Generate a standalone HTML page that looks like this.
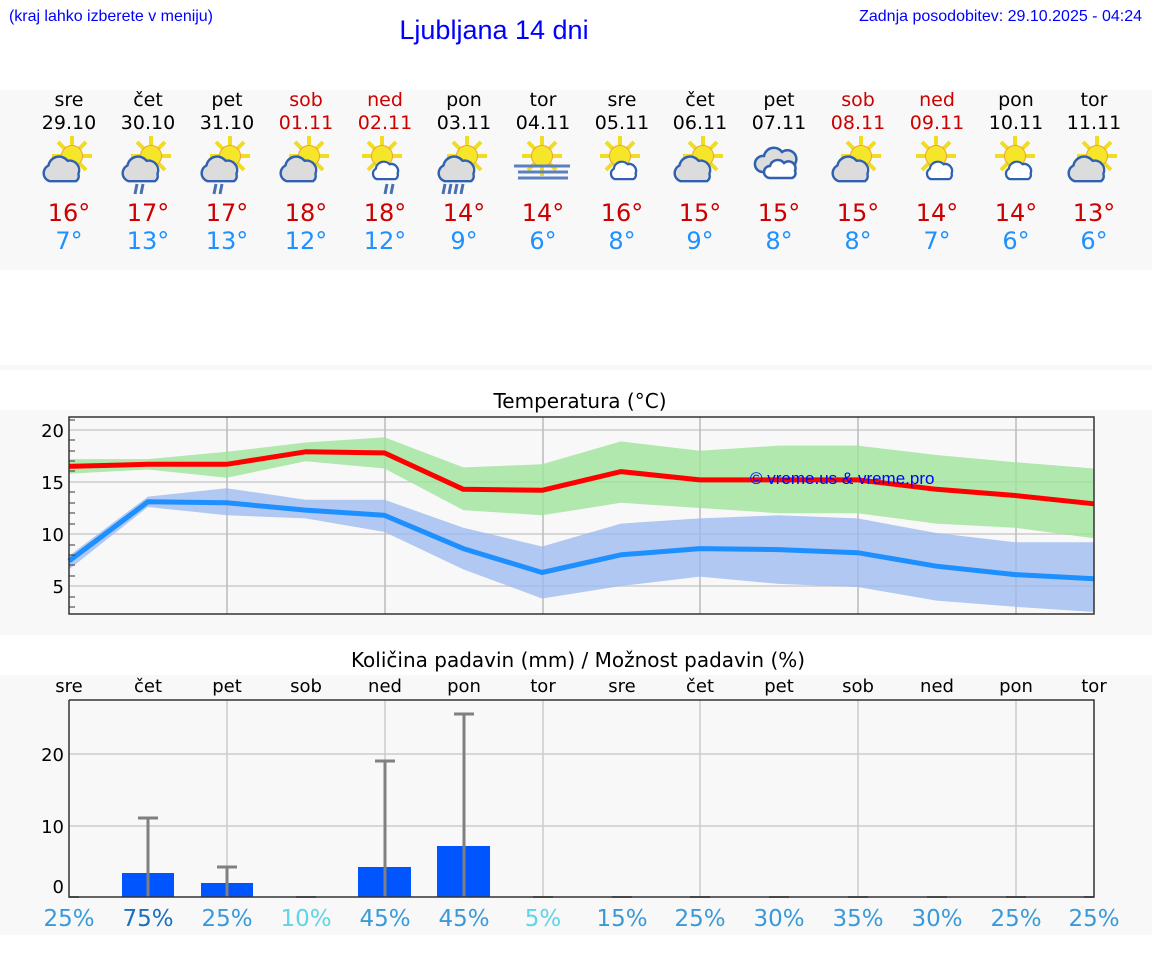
<!DOCTYPE html>
<html><head><meta charset="utf-8"><style>
body{margin:0;background:#fff;}
svg{display:block;font-family:"DejaVu Sans","Liberation Sans",sans-serif;}
</style></head><body>
<svg width="1152" height="975" viewBox="0 0 1152 975" xmlns="http://www.w3.org/2000/svg">
<defs>
<g id="sun"><g stroke="#f0dc20" stroke-width="4"><line x1="30" y1="-2" x2="30" y2="38"/><line x1="10" y1="18" x2="50" y2="18"/><line x1="16" y1="4" x2="44" y2="32"/><line x1="44" y1="4" x2="16" y2="32"/></g><circle cx="30" cy="18" r="10.5" fill="#f5e62a" stroke="#f0a030" stroke-width="1"/></g>
<path id="gc" transform="translate(-2,-6) scale(1.2)" d="M8,41 a7,7 0 0 1 -1,-13 a9,9 0 0 1 16,-4 a8,8 0 0 1 9,11 a5,5 0 0 1 -2,6 z" fill="#dcdcdc" stroke="#3060b0" stroke-width="2"/>
<path id="wc" transform="translate(-5,-6) scale(1.15)" d="M26,41 a5,5 0 0 1 -1,-9 a7,7 0 0 1 12,-4 a6,6 0 0 1 7,8 a4,4 0 0 1 -2,5 z" fill="#fff" stroke="#3060b0" stroke-width="2"/>
<g id="rain" stroke="#4a70b0" stroke-width="3"><line x1="16" y1="46" x2="14" y2="56"/><line x1="22" y1="46" x2="20" y2="56"/></g>
<g id="i1"><use href="#sun"/><use href="#gc"/></g>
<g id="i2"><use href="#sun"/><use href="#gc"/><use href="#rain"/></g>
<g id="i3"><use href="#sun"/><use href="#wc"/><g stroke="#4a70b0" stroke-width="3"><line x1="35" y1="46" x2="33" y2="56"/><line x1="41" y1="46" x2="39" y2="56"/></g></g>
<g id="i4"><use href="#sun"/><use href="#gc"/><g stroke="#4a70b0" stroke-width="3"><line x1="8" y1="46" x2="6" y2="56"/><line x1="14" y1="46" x2="12" y2="56"/><line x1="20" y1="46" x2="18" y2="56"/><line x1="26" y1="46" x2="24" y2="56"/></g></g>
<g id="i5"><use href="#sun"/><g stroke="#5a80c0" stroke-width="3"><line x1="2" y1="28" x2="58" y2="28"/><line x1="6" y1="34" x2="56" y2="34"/><line x1="6" y1="40" x2="56" y2="40"/></g></g>
<g id="i6"><use href="#sun"/><use href="#wc"/></g>
<g id="i7"><path d="M12,36 a8,8 0 0 1 2,-16 a10,10 0 0 1 18,-4 a9,9 0 0 1 13,12 a8,8 0 0 1 -4,8 z" fill="#dcdcdc" stroke="#3060b0" stroke-width="2.5"/><path d="M20,42 a6,6 0 0 1 0,-12 a8,8 0 0 1 14,-3 a7,7 0 0 1 11,8 a5,5 0 0 1 -3,7 z" fill="#fff" stroke="#3060b0" stroke-width="2.5"/></g>
</defs>

<text x="9" y="21" font-size="16" fill="#0000ff" font-family="Liberation Sans,sans-serif" textLength="204">(kraj lahko izberete v meniju)</text>
<text x="494" y="39" font-size="27" fill="#0000ff" text-anchor="middle" font-family="Liberation Sans,sans-serif">Ljubljana 14 dni</text>
<text x="1142" y="21" font-size="16" fill="#0000ff" text-anchor="end" font-family="Liberation Sans,sans-serif">Zadnja posodobitev: 29.10.2025 - 04:24</text>

<rect x="0" y="90" width="1152" height="180" fill="#f8f8f8"/>
<rect x="0" y="365" width="1152" height="5" fill="#f8f8f8"/>
<rect x="0" y="410" width="1152" height="225" fill="#f8f8f8"/>
<rect x="0" y="675" width="1152" height="260" fill="#f8f8f8"/>

<g font-size="19" text-anchor="middle">
<g fill="#000">
<text x="69" y="106">sre</text><text x="148" y="106">čet</text><text x="227" y="106">pet</text><text x="464" y="106">pon</text><text x="543" y="106">tor</text><text x="622" y="106">sre</text><text x="700" y="106">čet</text><text x="779" y="106">pet</text><text x="1016" y="106">pon</text><text x="1094" y="106">tor</text>
<text x="69" y="129">29.10</text><text x="148" y="129">30.10</text><text x="227" y="129">31.10</text><text x="464" y="129">03.11</text><text x="543" y="129">04.11</text><text x="622" y="129">05.11</text><text x="700" y="129">06.11</text><text x="779" y="129">07.11</text><text x="1016" y="129">10.11</text><text x="1094" y="129">11.11</text>
</g>
<g fill="#cc0000">
<text x="306" y="106">sob</text><text x="385" y="106">ned</text><text x="858" y="106">sob</text><text x="937" y="106">ned</text>
<text x="306" y="129">01.11</text><text x="385" y="129">02.11</text><text x="858" y="129">08.11</text><text x="937" y="129">09.11</text>
</g>
</g>

<use href="#i1" x="42" y="138"/>
<use href="#i2" x="121" y="138"/>
<use href="#i2" x="200" y="138"/>
<use href="#i1" x="279" y="138"/>
<use href="#i3" x="352" y="138"/>
<use href="#i4" x="437" y="138"/>
<use href="#i5" x="512" y="138"/>
<use href="#i6" x="590" y="138"/>
<use href="#i1" x="673" y="138"/>
<use href="#i7" x="750" y="136"/>
<use href="#i1" x="831" y="138"/>
<use href="#i6" x="906" y="138"/>
<use href="#i6" x="985" y="138"/>
<use href="#i1" x="1067" y="138"/>

<g font-size="24" text-anchor="middle">
<g fill="#cc0000">
<text x="69" y="221">16°</text><text x="148" y="221">17°</text><text x="227" y="221">17°</text><text x="306" y="221">18°</text><text x="385" y="221">18°</text><text x="464" y="221">14°</text><text x="543" y="221">14°</text><text x="622" y="221">16°</text><text x="700" y="221">15°</text><text x="779" y="221">15°</text><text x="858" y="221">15°</text><text x="937" y="221">14°</text><text x="1016" y="221">14°</text><text x="1094" y="221">13°</text>
</g>
<g fill="#1e90ff">
<text x="69" y="249">7°</text><text x="148" y="249">13°</text><text x="227" y="249">13°</text><text x="306" y="249">12°</text><text x="385" y="249">12°</text><text x="464" y="249">9°</text><text x="543" y="249">6°</text><text x="622" y="249">8°</text><text x="700" y="249">9°</text><text x="779" y="249">8°</text><text x="858" y="249">8°</text><text x="937" y="249">7°</text><text x="1016" y="249">6°</text><text x="1094" y="249">6°</text>
</g>
</g>

<!-- Temperature chart -->
<text x="580" y="408" font-size="20" text-anchor="middle" fill="#000">Temperatura (°C)</text>
<rect x="69" y="417" width="1025" height="197" fill="#f8f8f8"/>
<g stroke="#ccc" stroke-width="1.5">
<line x1="69" y1="430" x2="1094" y2="430"/><line x1="69" y1="482" x2="1094" y2="482"/><line x1="69" y1="534" x2="1094" y2="534"/><line x1="69" y1="586" x2="1094" y2="586"/>
</g>
<g stroke="#bbb" stroke-width="1.5">
<line x1="227" y1="417" x2="227" y2="614"/><line x1="385" y1="417" x2="385" y2="614"/><line x1="543" y1="417" x2="543" y2="614"/><line x1="700" y1="417" x2="700" y2="614"/><line x1="858" y1="417" x2="858" y2="614"/><line x1="1016" y1="417" x2="1016" y2="614"/>
</g>
<polygon fill="#9de39a" fill-opacity="0.8" points="69,459.1 147.9,459.1 226.7,451.8 305.6,442.5 384.4,437.3 463.3,467.4 542.1,464.3 621,441.4 699.8,450.8 778.7,445.6 857.5,445.6 936.4,455 1015.2,462.2 1094,468.5 1094,538.2 1015.2,527.8 936.4,523.6 857.5,513.2 778.7,513.2 699.8,508 621,502.8 542.1,515.3 463.3,510.1 384.4,468.5 305.6,461.2 226.7,477.8 147.9,469.5 69,473.7"/>
<polygon fill="#9ab8f0" fill-opacity="0.75" points="69,555.8 147.9,496.6 226.7,488.2 305.6,499.7 384.4,499.7 463.3,527.8 542.1,546.5 621,523.6 699.8,518.4 778.7,515.3 857.5,518.4 936.4,533 1015.2,542.3 1094,542.3 1094,612 1015.2,606.8 936.4,600.6 857.5,587 778.7,583.9 699.8,576.6 621,586 542.1,598.5 463.3,569.4 384.4,531.9 305.6,518.4 226.7,515.3 147.9,507 69,569.4"/>
<polyline fill="none" stroke="#ff0000" stroke-width="5" stroke-linejoin="round" points="69,466.4 147.9,464.3 226.7,464.3 305.6,451.8 384.4,452.9 463.3,489.3 542.1,490.3 621,471.6 699.8,479.9 778.7,479.9 857.5,479.9 936.4,489.3 1015.2,495.5 1094,503.8"/>
<polyline fill="none" stroke="#1e8fff" stroke-width="5" stroke-linejoin="round" points="69,561 147.9,501.8 226.7,502.8 305.6,510.1 384.4,515.3 463.3,548.6 542.1,572.5 621,554.8 699.8,548.6 778.7,549.6 857.5,552.7 936.4,566.2 1015.2,574.6 1094,578.7"/>
<text x="750" y="484" font-size="17" fill="#0000ff" font-family="Liberation Sans,sans-serif">© vreme.us &amp; vreme.pro</text>
<rect x="69" y="417" width="1025" height="197" fill="none" stroke="#333" stroke-width="1.5"/>
<g stroke="#333" stroke-width="1">
<line x1="69" y1="420" x2="75" y2="420"/><line x1="69" y1="440" x2="75" y2="440"/><line x1="69" y1="451" x2="75" y2="451"/><line x1="69" y1="461" x2="75" y2="461"/><line x1="69" y1="471" x2="75" y2="471"/><line x1="69" y1="492" x2="75" y2="492"/><line x1="69" y1="503" x2="75" y2="503"/><line x1="69" y1="513" x2="75" y2="513"/><line x1="69" y1="524" x2="75" y2="524"/><line x1="69" y1="545" x2="75" y2="545"/><line x1="69" y1="555" x2="75" y2="555"/><line x1="69" y1="565" x2="75" y2="565"/><line x1="69" y1="576" x2="75" y2="576"/><line x1="69" y1="597" x2="75" y2="597"/><line x1="69" y1="607" x2="75" y2="607"/>
</g>
<g font-size="18" text-anchor="end" fill="#000">
<text x="64" y="437">20</text><text x="64" y="489">15</text><text x="64" y="541">10</text><text x="64" y="593">5</text>
</g>

<!-- Precip chart -->
<text x="578" y="667" font-size="20" text-anchor="middle" fill="#000">Količina padavin (mm) / Možnost padavin (%)</text>
<g font-size="18" text-anchor="middle" fill="#000">
<text x="69" y="692">sre</text><text x="148" y="692">čet</text><text x="227" y="692">pet</text><text x="306" y="692">sob</text><text x="385" y="692">ned</text><text x="464" y="692">pon</text><text x="543" y="692">tor</text><text x="622" y="692">sre</text><text x="700" y="692">čet</text><text x="779" y="692">pet</text><text x="858" y="692">sob</text><text x="937" y="692">ned</text><text x="1016" y="692">pon</text><text x="1094" y="692">tor</text>
</g>
<g stroke="#ccc" stroke-width="1.5">
<line x1="69" y1="826" x2="1094" y2="826"/><line x1="69" y1="754" x2="1094" y2="754"/>
<line x1="227" y1="700" x2="227" y2="897"/><line x1="385" y1="700" x2="385" y2="897"/><line x1="543" y1="700" x2="543" y2="897"/><line x1="700" y1="700" x2="700" y2="897"/><line x1="858" y1="700" x2="858" y2="897"/><line x1="1016" y1="700" x2="1016" y2="897"/>
</g>
<g fill="#0055ff">
<rect x="122" y="873" width="52" height="24"/><rect x="201" y="883" width="52" height="14"/><rect x="358" y="867" width="53" height="30"/><rect x="437" y="846" width="53" height="51"/>
</g>
<g stroke="#808080" stroke-width="3">
<line x1="148" y1="897" x2="148" y2="818"/><line x1="138" y1="818" x2="158" y2="818"/>
<line x1="227" y1="897" x2="227" y2="867"/><line x1="217" y1="867" x2="237" y2="867"/>
<line x1="385" y1="897" x2="385" y2="761"/><line x1="375" y1="761" x2="395" y2="761"/>
<line x1="464" y1="897" x2="464" y2="714"/><line x1="454" y1="714" x2="474" y2="714"/>
</g>
<g stroke="#808080" stroke-width="2">
<line x1="69" y1="897" x2="79" y2="897"/><line x1="296" y1="897" x2="316" y2="897"/><line x1="533" y1="897" x2="553" y2="897"/><line x1="612" y1="897" x2="632" y2="897"/><line x1="690" y1="897" x2="710" y2="897"/><line x1="769" y1="897" x2="789" y2="897"/><line x1="848" y1="897" x2="868" y2="897"/><line x1="927" y1="897" x2="947" y2="897"/><line x1="1006" y1="897" x2="1026" y2="897"/><line x1="1084" y1="897" x2="1094" y2="897"/>
</g>
<polyline fill="none" stroke="#333" stroke-width="1.5" points="69,700 69,897 1094,897 1094,700 69,700"/>
<g font-size="18" text-anchor="end" fill="#000">
<text x="64" y="761">20</text><text x="64" y="833">10</text><text x="64" y="893">0</text>
</g>
<g font-size="23" text-anchor="middle">
<text x="69" y="926" fill="#3a9ad9">25%</text>
<text x="148" y="926" fill="#1a6fc0">75%</text>
<text x="227" y="926" fill="#3a9ad9">25%</text>
<text x="306" y="926" fill="#5dd5e8">10%</text>
<text x="385" y="926" fill="#3a9ad9">45%</text>
<text x="464" y="926" fill="#3a9ad9">45%</text>
<text x="543" y="926" fill="#5dd5e8">5%</text>
<text x="622" y="926" fill="#3a9ad9">15%</text>
<text x="700" y="926" fill="#3a9ad9">25%</text>
<text x="779" y="926" fill="#3a9ad9">30%</text>
<text x="858" y="926" fill="#3a9ad9">35%</text>
<text x="937" y="926" fill="#3a9ad9">30%</text>
<text x="1016" y="926" fill="#3a9ad9">25%</text>
<text x="1094" y="926" fill="#3a9ad9">25%</text>
</g>
</svg>
</body></html>
